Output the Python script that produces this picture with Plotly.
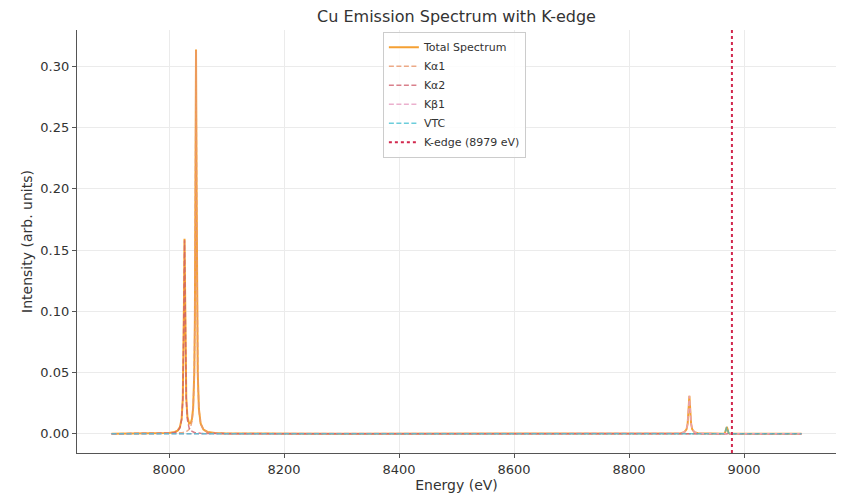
import plotly.graph_objects as go

# Shared energy grid (eV) and component intensities (arb. units)
energy = [7900, 8000, 8010, 8015, 8019, 8022, 8024, 8025, 8026, 8027, 8028, 8029, 8030,
          8032, 8035, 8038, 8040, 8042, 8044, 8045, 8046, 8047, 8048, 8049, 8050, 8052,
          8055, 8060, 8067, 8080, 8100, 8300, 8600, 8850, 8880, 8890, 8896, 8900, 8902,
          8903, 8904, 8905, 8906, 8907, 8908, 8910, 8914, 8920, 8930, 8945, 8960, 8965,
          8967, 8968, 8969, 8970, 8971, 8972, 8973, 8975, 8990, 9050, 9100]

ka2 = [0, 0.0004, 0.0011, 0.0021, 0.0047, 0.0115, 0.028, 0.052, 0.105, 0.158, 0.105, 0.052, 0.028,
       0.0115, 0.0047, 0.0025, 0.0018, 0.0014, 0.0011, 0.0010, 0.0009, 0.0008, 0.0007, 0.0007, 0.0006, 0.0005,
       0.0004, 0.0003, 0.0002, 0.0001, 0.0001, 0, 0, 0, 0, 0, 0, 0, 0,
       0, 0, 0, 0, 0, 0, 0, 0, 0, 0, 0, 0, 0,
       0, 0, 0, 0, 0, 0, 0, 0, 0, 0, 0]

ka1 = [0, 0.0002, 0.0004, 0.0005, 0.0007, 0.0008, 0.0010, 0.0011, 0.0012, 0.0013, 0.0015, 0.0016, 0.0018,
       0.0023, 0.0036, 0.0064, 0.0104, 0.0198, 0.049, 0.093, 0.197, 0.313, 0.197, 0.093, 0.049, 0.0198,
       0.0080, 0.0031, 0.0013, 0.0005, 0.0002, 0, 0, 0, 0, 0, 0, 0, 0,
       0, 0, 0, 0, 0, 0, 0, 0, 0, 0, 0, 0, 0,
       0, 0, 0, 0, 0, 0, 0, 0, 0, 0, 0]

kb1 = [0, 0, 0, 0, 0, 0, 0, 0, 0, 0, 0, 0, 0,
       0, 0, 0, 0, 0, 0, 0, 0, 0, 0, 0, 0, 0,
       0, 0, 0, 0, 0, 0, 0, 0, 0.0002, 0.0004, 0.0012, 0.0036, 0.0082,
       0.0139, 0.0237, 0.031, 0.0237, 0.0139, 0.0082, 0.0036, 0.0012, 0.0004, 0.0002, 0.0001, 0, 0,
       0, 0, 0, 0, 0, 0, 0, 0, 0, 0, 0]

vtc = [0, 0, 0, 0, 0, 0, 0, 0, 0, 0, 0, 0, 0,
       0, 0, 0, 0, 0, 0, 0, 0, 0, 0, 0, 0, 0,
       0, 0, 0, 0, 0, 0, 0, 0, 0, 0, 0, 0, 0,
       0, 0, 0, 0, 0, 0, 0, 0, 0, 0, 0, 0, 0,
       0.0008, 0.0022, 0.0045, 0.0055, 0.0045, 0.0022, 0.0008, 0, 0, 0, 0]

k_edge = 8979

total = [a + b + c + d for a, b, c, d in zip(ka1, ka2, kb1, vtc)]

x_ticks = [8000, 8200, 8400, 8600, 8800, 9000]
y_ticks = [0.00, 0.05, 0.10, 0.15, 0.20, 0.25, 0.30]

FONT = "DejaVu Sans"
DASH = "5px,2.5px"

fig = go.Figure()
fig.add_trace(go.Scatter(x=energy, y=total, mode="lines", name="Total Spectrum",
                         line=dict(color="#f5a033", width=2)))
fig.add_trace(go.Scatter(x=energy, y=ka1, mode="lines", name="Kα1", opacity=0.85,
                         line=dict(color="#e99a72", width=1.5, dash=DASH)))
fig.add_trace(go.Scatter(x=energy, y=ka2, mode="lines", name="Kα2", opacity=0.8,
                         line=dict(color="#cf606e", width=1.5, dash=DASH)))
fig.add_trace(go.Scatter(x=energy, y=kb1, mode="lines", name="Kβ1", opacity=0.85,
                         line=dict(color="#e8a2c4", width=1.5, dash=DASH)))
fig.add_trace(go.Scatter(x=energy, y=vtc, mode="lines", name="VTC", opacity=0.75,
                         line=dict(color="#3bbccf", width=1.5, dash=DASH)))
fig.add_vline(x=k_edge, line=dict(color="#d2284e", width=2, dash="dot"),
              showlegend=True, name=f"K-edge ({k_edge} eV)")

axis_common = dict(
    showline=True, linecolor="#555555", linewidth=1.3,
    ticks="outside", ticklen=4, tickcolor="#555555",
    showgrid=True, gridcolor="#ebebeb", gridwidth=1,
    zeroline=False, tickfont=dict(family=FONT, size=13, color="#333333"),
    mirror=False, automargin=False,
)

fig.update_xaxes(range=[7840, 9160], tickvals=x_ticks,
                 title=dict(text="Energy (eV)", font=dict(family=FONT, size=14, color="#333333"), standoff=3),
                 **axis_common)
fig.update_yaxes(range=[-0.0157, 0.3297], tickvals=y_ticks, tickformat=".2f",
                 title=dict(text="Intensity (arb. units)", font=dict(family=FONT, size=14, color="#333333"), standoff=4),
                 **axis_common)

fig.update_layout(
    width=845, height=494,
    margin=dict(l=77, r=9, t=30, b=41),
    paper_bgcolor="white", plot_bgcolor="white",
    title=dict(text="Cu Emission Spectrum with K-edge", x=0.5, xref="paper",
               y=1, yref="container", yanchor="top", pad=dict(t=11),
               font=dict(family=FONT, size=16, color="#333333")),
    legend=dict(x=0.403, y=0.996, xanchor="left", yanchor="top",
                bgcolor="rgba(255,255,255,0.85)", bordercolor="#cccccc", borderwidth=1,
                font=dict(family=FONT, size=11, color="#333333"), itemwidth=30,
                tracegroupgap=0),
    showlegend=True,
)

fig.write_html("out.html")
